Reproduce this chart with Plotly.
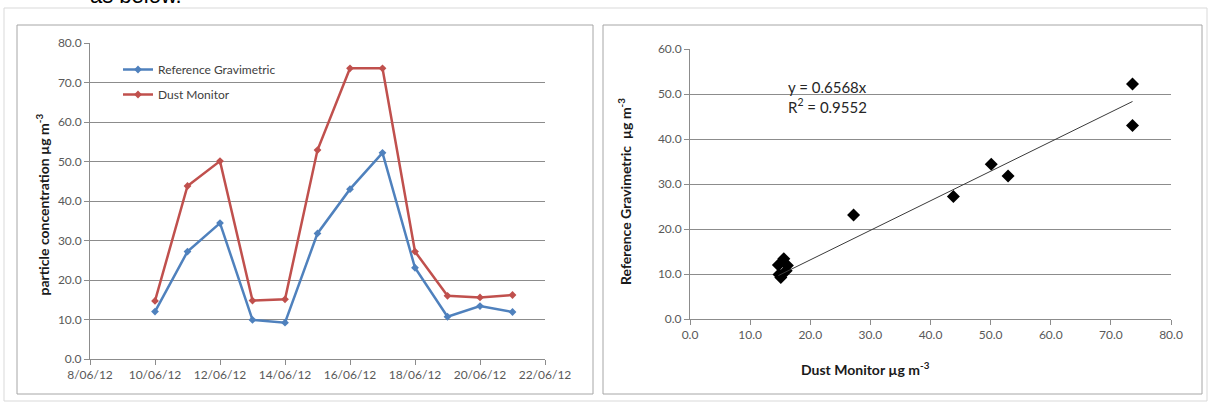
import plotly.graph_objects as go

# data
dates = ["2012-06-10", "2012-06-11", "2012-06-12", "2012-06-13", "2012-06-14", "2012-06-15",
         "2012-06-16", "2012-06-17", "2012-06-18", "2012-06-19", "2012-06-20", "2012-06-21"]
gravimetric = [12.0, 27.2, 34.4, 9.9, 9.2, 31.8, 43.0, 52.2, 23.1, 10.7, 13.4, 11.9]
dust_monitor = [14.7, 43.8, 50.1, 14.8, 15.1, 52.9, 73.6, 73.6, 27.2, 16.0, 15.6, 16.2]
trend_slope = 0.6568
trend_r2 = 0.9552

W, H = 1208, 403
BLUE = "#4F81BD"
RED = "#C0504D"
GRID = "#8C8C8C"
TICK = "#595959"
FONT = "Lato, Liberation Sans, sans-serif"


def px(x):
    return x / W


def py(y):
    return 1 - y / H


fig = go.Figure()

# left: time series
fig.add_trace(go.Scatter(x=dates, y=gravimetric, mode="lines+markers", name="Reference Gravimetric",
                         legendgroup="a", line=dict(color=BLUE, width=2.5),
                         marker=dict(symbol="diamond", size=6, color=BLUE), xaxis="x", yaxis="y"))
fig.add_trace(go.Scatter(x=dates, y=dust_monitor, mode="lines+markers", name="Dust Monitor",
                         legendgroup="b", line=dict(color=RED, width=2.5),
                         marker=dict(symbol="diamond", size=6, color=RED), xaxis="x", yaxis="y"))

# right: scatter + linear trend through origin
fig.add_trace(go.Scatter(x=dust_monitor, y=gravimetric, mode="markers", showlegend=False,
                         marker=dict(symbol="diamond", size=10, color="black"), xaxis="x2", yaxis="y2"))
tx = [min(dust_monitor), max(dust_monitor)]
fig.add_trace(go.Scatter(x=tx, y=[trend_slope * v for v in tx], mode="lines", showlegend=False,
                         line=dict(color="#3a3a3a", width=1), xaxis="x2", yaxis="y2"))

axis_common = dict(showline=True, linecolor=GRID, linewidth=1, ticks="outside", ticklen=5,
                   tickcolor=GRID, tickfont=dict(family=FONT, size=12, color=TICK), zeroline=False)

fig.update_layout(
    width=W, height=H, margin=dict(l=0, r=0, t=0, b=0, autoexpand=False),
    paper_bgcolor="white", plot_bgcolor="white",
    font=dict(family=FONT),
    xaxis=dict(domain=[px(90), px(545)], anchor="y", type="date",
               range=["2012-06-08", "2012-06-22"], tick0="2012-06-08", dtick=2 * 86400000,
               tickformat="%-d/%m/%y", showgrid=False, **axis_common),
    yaxis=dict(domain=[py(359), py(43)], anchor="x", range=[0, 80], dtick=10, tickformat=".1f",
               showgrid=True, gridcolor=GRID, gridwidth=1, **axis_common),
    xaxis2=dict(domain=[px(690), px(1171)], anchor="y2", range=[0, 80], dtick=10, tickformat=".1f",
                showgrid=False, **axis_common),
    yaxis2=dict(domain=[py(319), py(49)], anchor="x2", range=[0, 60], dtick=10, tickformat=".1f",
                showgrid=True, gridcolor=GRID, gridwidth=1, **axis_common),
    legend=dict(x=px(118), y=py(55), xanchor="left", yanchor="top", bgcolor="rgba(0,0,0,0)",
                font=dict(family=FONT, size=12, color="#404040"), traceorder="grouped",
                tracegroupgap=6, itemwidth=30),
)

# chart frames and document outline
fig.add_shape(type="rect", xref="paper", yref="paper", x0=px(4), x1=px(1207), y0=py(401), y1=py(8),
              line=dict(color="#d9d9d9", width=1), layer="below")
for x0, x1 in [(17, 593), (603, 1202)]:
    fig.add_shape(type="rect", xref="paper", yref="paper", x0=px(x0), x1=px(x1), y0=py(394), y1=py(25),
                  line=dict(color="#a6a6a6", width=1), layer="below")

title_font = dict(family=FONT, size=14, color="#1a1a1a")
fig.add_annotation(text="<b>particle concentration µg m<sup>-3</sup></b>", xref="paper", yref="paper",
                   x=px(31), y=py(205), textangle=-90, showarrow=False, font=title_font)
fig.add_annotation(text="<b>Reference Gravimetric  µg m<sup>-3</sup></b>", xref="paper", yref="paper",
                   x=px(624), y=py(192), textangle=-90, showarrow=False, font=title_font)
fig.add_annotation(text="<b>Dust Monitor µg m<sup>-3</sup></b>", xref="paper", yref="paper",
                   x=px(932), y=py(380), showarrow=False, font=title_font)
fig.add_annotation(text=f"y = {trend_slope}x<br>R<sup>2</sup> = {trend_r2}", xref="paper", yref="paper",
                   x=px(786), y=py(76), xanchor="left", align="left", showarrow=False,
                   font=dict(family=FONT, size=15, color="#262626"))
fig.add_annotation(text="as below.", xref="paper", yref="paper", x=px(88), y=py(10),
                   xanchor="left", yanchor="bottom", showarrow=False,
                   font=dict(family="Liberation Sans, Arial", size=22, color="black"))

# page body has a default 8px margin; drop it so the figure fills the window
fig.write_html("out.html", config={"displayModeBar": False},
               post_script="document.body.style.margin = '0';")
